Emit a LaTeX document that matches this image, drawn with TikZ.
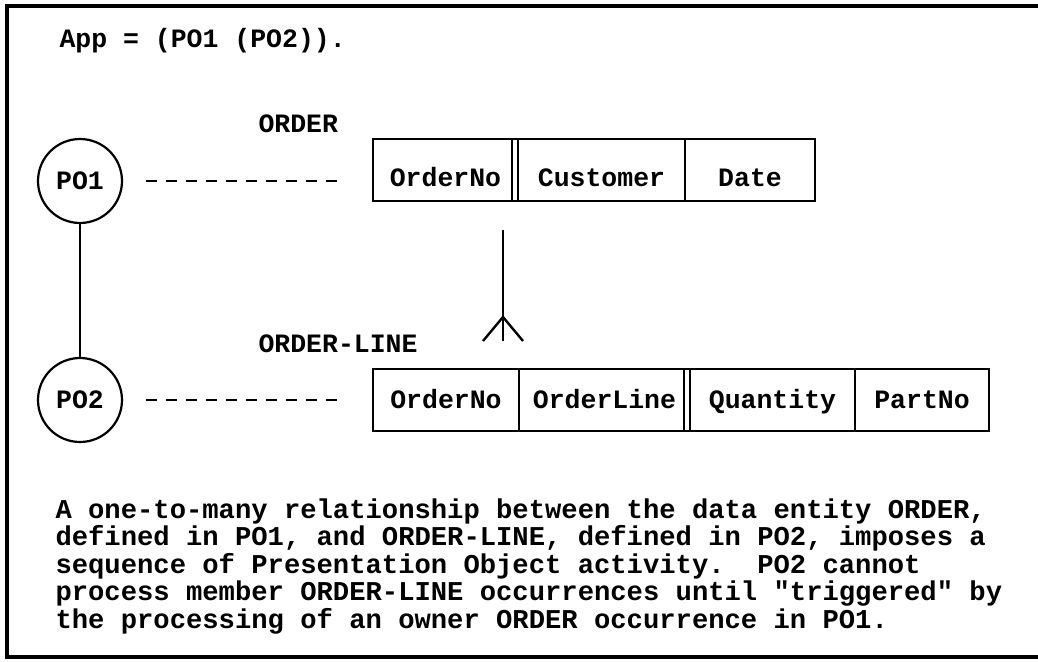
\documentclass[tikz,border=0pt]{standalone}
\usepackage{fontspec}
\setmonofont{Liberation Mono}
\usetikzlibrary{positioning}

\tikzset{
	po/.style={circle,draw,line width=2.2pt,minimum size=84pt,inner sep=0pt},
	cell/.style={draw,line width=2.2pt,inner sep=0pt,outer sep=0pt,minimum height=62pt},
	toprow/.style={cell,text height=47pt,text depth=15pt},
	lowrow/.style={cell,text height=39pt,text depth=23pt},
	keycol/.style={path picture={\draw[line width=2.2pt]
		([xshift=-6pt]path picture bounding box.north east) --
		([xshift=-6pt]path picture bounding box.south east);}},
	dashline/.style={line width=2.6pt,dash pattern=on 11pt off 9pt},
	relline/.style={line width=2.4pt},
	para/.style={anchor=base west,font=\ttfamily\bfseries\fontsize{27.2}{27.5}\selectfont}
}

\begin{document}
\begin{tikzpicture}[x=1pt,y=-1pt,font=\ttfamily\bfseries\fontsize{26.5}{27.5}\selectfont]
	\useasboundingbox (0,0) rectangle (1038,661);

	%frame, open at the right
	\draw[line width=3.4pt] (1038,6)--(7,6)--(7,657)--(1038,657);

	%presentation objects
	\node[po] (po1) at (80,181) {PO1};
	\node[po] (po2) at (80,400) {PO2};
	\draw[line width=2.2pt] (po1)--(po2);

	%ORDER record
	\node[toprow,keycol,minimum width=145pt,anchor=north west] (o1) at (373,139) {OrderNo\hspace{6pt}};
	\node[toprow,minimum width=167pt,right=0pt of o1] (o2) {Customer\hspace{26pt}};
	\node[toprow,minimum width=130pt,right=0pt of o2] (o3) {Date};

	%ORDER-LINE record
	\node[lowrow,minimum width=146pt,anchor=north west] (l1) at (373,369) {OrderNo};
	\node[lowrow,keycol,minimum width=171pt,right=0pt of l1] (l2) {OrderLine\hspace{6pt}};
	\node[lowrow,minimum width=165pt,right=0pt of l2] (l3) {Quantity};
	\node[lowrow,minimum width=134pt,right=0pt of l3] (l4) {PartNo};

	%object--record links
	\draw[dashline,shorten <=23pt,shorten >=31pt] (po1.east)--(po1.east -| o1.west);
	\draw[dashline,shorten <=23pt,shorten >=31pt] (po2.east)--(po2.east -| l1.west);

	%one-to-many
	\coordinate (reltop) at (503,230);
	\coordinate (relfoot) at (503,341);
	\coordinate (fork) at (503,317);
	\coordinate (footl) at (483,341);
	\coordinate (footr) at (523,341);
	\draw[relline] (reltop)--(relfoot);
	\draw[relline] (footl)--(fork)--(footr);

	%labels
	\node[anchor=base west] (app) at (56,48) {App = (PO1 (PO2)).};
	\node[anchor=base west] (ordlbl) at (255,132) {ORDER};
	\node[anchor=base west] (linelbl) at (255,352) {ORDER-LINE};
	%
	\node[para] (txt1) at (52,518)   {A one-to-many relationship between the data entity ORDER,};
	\node[para] (txt2) at (52,545.5) {defined in PO1, and ORDER-LINE, defined in PO2, imposes a};
	\node[para] (txt3) at (52,573)   {sequence of Presentation Object activity.\ \ PO2 cannot};
	\node[para] (txt4) at (52,600.5) {process member ORDER-LINE occurrences until "triggered" by};
	\node[para] (txt5) at (52,628)   {the processing of an owner ORDER occurrence in PO1.};
\end{tikzpicture}
\end{document}
